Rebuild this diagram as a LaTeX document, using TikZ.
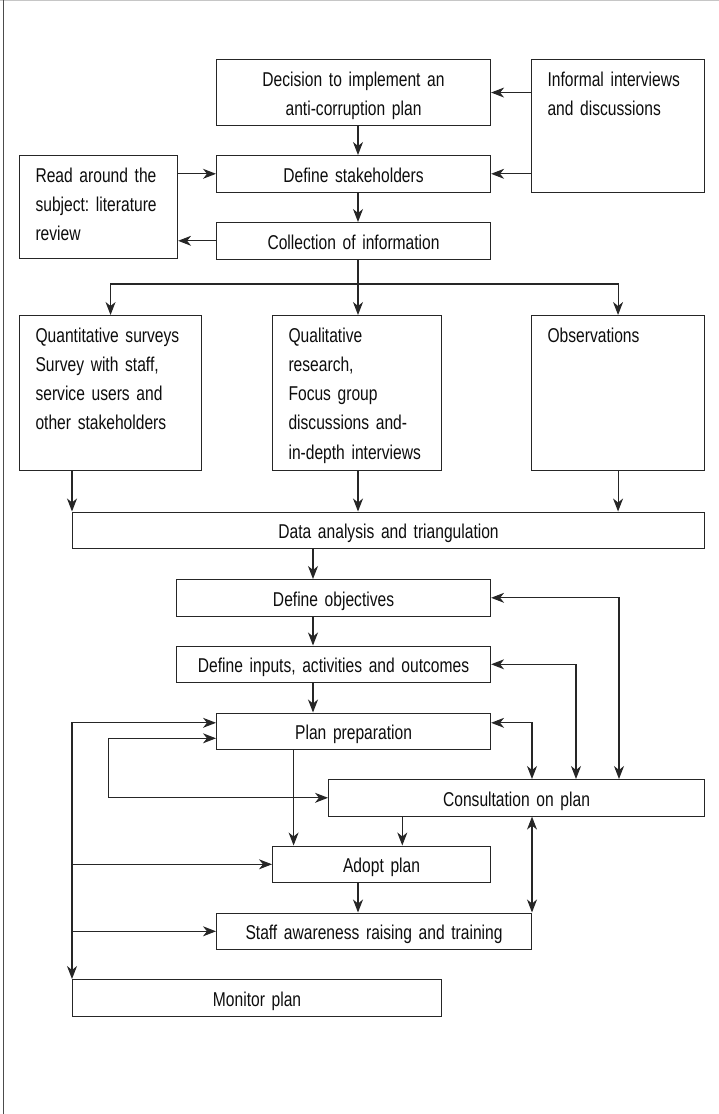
\documentclass[tikz,border=0pt]{standalone}
\usepackage{fontspec}
\setmainfont[FakeStretch=0.78]{Liberation Sans}
\usepackage{tikz}
\usetikzlibrary{arrows.meta}

\begin{document}
\begin{tikzpicture}[x=1pt, y=-1pt,
    >={Stealth[length=13pt, width=10pt, inset=4pt]},
    line width=1.1pt, draw=black!85,
    box/.style={draw=black!85, line width=1.1pt, anchor=north west, inner xsep=16pt, inner ysep=0pt,
        text=black!95, text height=26.5pt, font=\fontsize{20}{29.3}\selectfont},
    onel/.style={text depth=10pt, align=center}]
    \useasboundingbox (0,0) rectangle (719,1114);
    \draw[gray!45, line width=0.8pt] (0,0.5) -- (719,0.5);
    \draw[black!70, line width=1pt] (3.2,0) -- (3.2,1114);

    \node[box, align=center, text width=242pt, text depth=39.5pt] (dec) at (216,59) {Decision to implement an\\anti-corruption plan};
    \node[box, align=left, text width=141pt, text depth=106.5pt] (inf) at (531,59) {Informal~interviews\\and~discussions};
    \node[box, align=left, text width=126pt, text depth=76.5pt] (read) at (19,155) {Read~around~the\\subject:~literature\\review};
    \node[box, onel, text width=242pt] (stk) at (216,155) {Define stakeholders};
    \node[box, onel, text width=242pt] (col) at (216,222) {Collection of information};
    \node[box, align=left, text width=150pt, text depth=128.5pt] (quan) at (19,315) {Quantitative~surveys\\Survey~with~staff,\\service~users~and\\other~stakeholders};
    \node[box, align=left, text width=137pt, text depth=128.5pt] (qual) at (272,315) {Qualitative\\research,\\Focus~group\\discussions~and-\\in-depth~interviews};
    \node[box, align=left, text width=141pt, text depth=128.5pt] (obs) at (531,315) {Observations};
    \node[box, onel, text width=600pt] (dat) at (72,511.5) {Data analysis and triangulation};
    \node[box, onel, text width=282pt] (obj) at (176,579) {Define objectives};
    \node[box, onel, text width=282pt] (inp) at (176,645.5) {Define inputs, activities and outcomes};
    \node[box, onel, text width=242pt] (prep) at (216,712.5) {Plan preparation};
    \node[box, onel, text width=344pt] (cons) at (328,779) {Consultation on plan};
    \node[box, onel, text width=186pt] (adopt) at (272,845.5) {Adopt plan};
    \node[box, onel, text width=283pt] (staff) at (216,912.5) {Staff awareness raising and training};
    \node[box, onel, text width=337pt] (mon) at (72,979) {Monitor plan};

    \coordinate (spine) at (358,0);
    \coordinate (mid) at (313,0);
    \coordinate (fork) at (358,284);
    \coordinate (inner) at (108.7,0);
    \coordinate (c0) at (293.6,0);
    \coordinate (c4) at (402.3,0);
    \coordinate (c1) at (532,0);
    \coordinate (c2) at (576,0);
    \coordinate (c3) at (619,0);

    \draw[->] (inf.west |- dec.east) -- (dec.east);
    \draw[->] (inf.west |- stk.east) -- (stk.east);
    \draw[->] (read.east |- stk.west) -- (stk.west);
    \draw[->] (col.west) -- (col.west -| read.east);
    \draw[->] (dec.south -| spine) -- (stk.north -| spine);
    \draw[->] (stk.south -| spine) -- (col.north -| spine);
    \draw (col.south -| spine) -- (fork);
    \draw[->] (fork) -| (quan.north);
    \draw[->] (fork) -| (obs.north);
    \draw[->] (fork) -- (qual.north -| fork);
    \draw[->] (quan.south -| dat.north west) -- (dat.north west);
    \draw[->] (qual.south -| spine) -- (dat.north -| spine);
    \draw[->] (obs.south) -- (obs.south |- dat.north);

    \draw[->] (dat.south -| mid) -- (obj.north -| mid);
    \draw[->] (obj.south -| mid) -- (inp.north -| mid);
    \draw[->] (inp.south -| mid) -- (prep.north -| mid);
    \draw[<->] (obj.east) -| (cons.north -| c3);
    \draw[<->] (inp.east) -| (cons.north -| c2);
    \draw[<->] ([yshift=8.5pt]prep.east) -| (cons.north -| c1);
    \coordinate (loopin) at ([yshift=-7pt]prep.west);
    \draw[<->] (cons.west) -| (inner |- loopin) -- (loopin);
    \draw[->] (prep.south -| c0) -- (adopt.north -| c0);
    \draw[->] (cons.south -| c4) -- (adopt.north -| c4);
    \draw[->] (adopt.south -| spine) -- (staff.north -| spine);
    \draw[<->] (cons.south -| c1) -- (staff.north -| c1);
    \draw[<->] ([yshift=8.5pt]prep.west) -| (mon.north west);
    \draw[->] (mon.north west |- adopt.west) -- (adopt.west);
    \draw[->] (mon.north west |- staff.west) -- (staff.west);
\end{tikzpicture}
\end{document}
